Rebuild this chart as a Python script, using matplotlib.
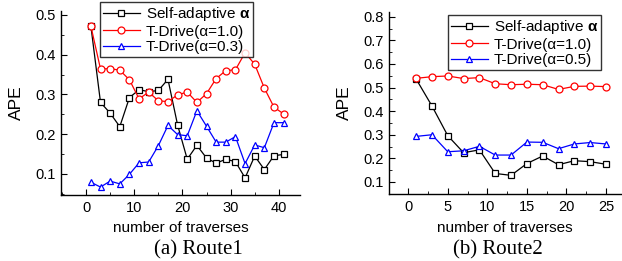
import matplotlib
matplotlib.use("Agg")
import matplotlib.pyplot as plt
from matplotlib.ticker import MultipleLocator

plt.rcParams["font.family"] = ["Liberation Sans", "DejaVu Sans"]
plt.rcParams["mathtext.fontset"] = "custom"
plt.rcParams["mathtext.rm"] = "Liberation Sans"
plt.rcParams["mathtext.bf"] = "Liberation Sans:bold"

# ── data ──────────────────────────────────────────────────────────────────────
x1 = list(range(1, 42, 2))
r1_self = [0.472, 0.280, 0.253, 0.219, 0.292, 0.312, 0.307, 0.310, 0.338, 0.223, 0.137,
           0.172, 0.140, 0.127, 0.137, 0.131, 0.090, 0.145, 0.111, 0.146, 0.149]
r1_td10 = [0.472, 0.364, 0.365, 0.361, 0.337, 0.289, 0.306, 0.284, 0.282, 0.299, 0.306,
           0.280, 0.302, 0.340, 0.360, 0.362, 0.405, 0.376, 0.316, 0.268, 0.251]
r1_td03 = [0.079, 0.067, 0.082, 0.075, 0.099, 0.128, 0.130, 0.171, 0.222, 0.199, 0.196,
           0.259, 0.220, 0.180, 0.180, 0.194, 0.126, 0.173, 0.166, 0.229, 0.229]

x2 = list(range(1, 26, 2))
r2_self = [0.536, 0.422, 0.296, 0.224, 0.236, 0.136, 0.128, 0.178, 0.210, 0.173, 0.190, 0.186, 0.175]
r2_td10 = [0.539, 0.546, 0.549, 0.538, 0.542, 0.516, 0.512, 0.514, 0.512, 0.492, 0.505, 0.506, 0.504]
r2_td05 = [0.293, 0.300, 0.228, 0.232, 0.251, 0.214, 0.214, 0.269, 0.268, 0.241, 0.261, 0.267, 0.261]

labels1 = [r"Self-adaptive $\mathbf{α}$", "T-Drive(α=1.0)", "T-Drive(α=0.3)"]
labels2 = [r"Self-adaptive $\mathbf{α}$", "T-Drive(α=1.0)", "T-Drive(α=0.5)"]

W, H, DPI = 622, 261, 100
fig = plt.figure(figsize=(W / DPI, H / DPI), dpi=DPI, facecolor="white")


def px(l, t, r, b):
    return [l / W, 1 - b / H, (r - l) / W, (b - t) / H]


def panel(rect, x, series, labels, xlim, ylim, xmaj, xmin, ymaj, legend_box, caption):
    ax = fig.add_axes(rect)
    styles = [("black", "s"), ("red", "o"), ("blue", "^")]
    for ys, lab, (c, m) in zip(series, labels, styles):
        ax.plot(x, ys, color=c, marker=m, ms=5, mfc="white", mec=c, mew=0.9,
                lw=0.9, label=lab)
    ax.set_xlim(*xlim)
    ax.set_ylim(*ylim)
    ax.xaxis.set_major_locator(MultipleLocator(xmaj))
    ax.xaxis.set_minor_locator(MultipleLocator(xmin))
    ax.yaxis.set_major_locator(MultipleLocator(ymaj))
    ax.yaxis.set_minor_locator(MultipleLocator(ymaj / 2))
    for s in ("top", "right"):
        ax.spines[s].set_visible(False)
    for s in ("left", "bottom"):
        ax.spines[s].set_linewidth(1.0)
    ax.tick_params(which="major", direction="in", length=4, labelsize=10.5, pad=4)
    ax.tick_params(which="minor", direction="in", length=2)
    ax.set_ylabel("APE", fontsize=12.5, labelpad=8)
    ax.set_xlabel("number of traverses", fontsize=11, labelpad=5)
    leg = ax.legend(loc="upper left", bbox_to_anchor=legend_box, bbox_transform=fig.transFigure,
                    fontsize=11, frameon=True, fancybox=False, handlelength=2.4,
                    borderpad=0.2, labelspacing=0.1, handletextpad=0.4, borderaxespad=0)
    leg.get_frame().set_edgecolor("black")
    leg.get_frame().set_linewidth(1.0)
    fig.text(caption[0], caption[1], caption[2], fontsize=15,
             family=["Liberation Serif", "DejaVu Serif"], ha="center", va="baseline")
    return ax


panel(px(61, 11, 300, 195), x1, [r1_self, r1_td10, r1_td03], labels1,
      (-5.2, 44.4), (0.047, 0.51), 10, 5, 0.1,
      (100 / W, 1 - 2 / H), (198 / W, 1 - 254 / H, "(a) Route1"))

panel(px(389, 12, 621, 194), x2, [r2_self, r2_td10, r2_td05], labels2,
      (-2.43, 26.9), (0.049, 0.82), 5, 2.5, 0.1,
      (448 / W, 1 - 15 / H), (498 / W, 1 - 254 / H, "(b) Route2"))

fig.savefig("out.png", dpi=DPI, facecolor="white")
